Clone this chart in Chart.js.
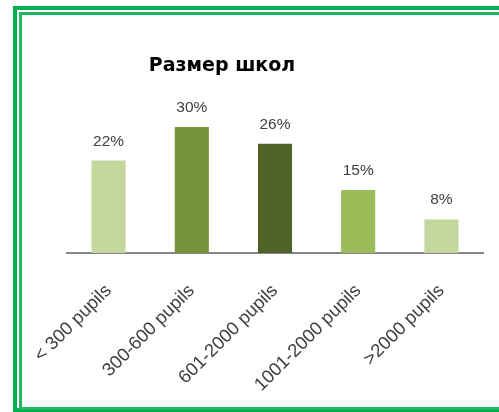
<!DOCTYPE html>
<html>
<head>
<meta charset="utf-8">
<script src="https://cdn.jsdelivr.net/npm/chart.js@4/dist/chart.umd.min.js"></script>
<style>
  html, body { margin: 0; padding: 0; background: #fff; overflow: hidden; width: 499px; height: 412px; }
  #outer { position: absolute; left: 13px; top: 6px; width: 600px; height: 406px; box-sizing: border-box; border: 4px solid #00b050; }
  #inner { position: absolute; left: 19px; top: 12px; width: 600px; height: 398px; box-sizing: border-box; border: 3px solid #1fb85f; }
  #c { position: absolute; left: 0; top: 0; }
</style>
</head>
<body>
<div id="outer"></div>
<div id="inner"></div>
<canvas id="c" width="499" height="412"></canvas>
<script>
const chartTitle = 'Размер школ';
const categories = ['< 300 pupils', '300-600 pupils', '601-2000 pupils', '1001-2000 pupils', '>2000 pupils'];
const shares = [22, 30, 26, 15, 8];
const barColors = ['#c3d69b', '#77933c', '#4f6228', '#9bbb59', '#c3d69b'];

const FONT = '"Liberation Sans", Arial, sans-serif';

const labelPlugin = {
  id: 'valueLabels',
  afterDatasetsDraw(chart) {
    const ctx = chart.ctx;
    const meta = chart.getDatasetMeta(0);
    ctx.save();
    ctx.font = '15.5px ' + FONT;
    ctx.fillStyle = '#404040';
    ctx.textAlign = 'center';
    ctx.textBaseline = 'alphabetic';
    meta.data.forEach((bar, i) => {
      ctx.fillText(shares[i] + '%', bar.x, bar.y - 15);
    });
    ctx.restore();
  }
};

const titlePlugin = {
  id: 'customTitle',
  afterDraw(chart) {
    const ctx = chart.ctx;
    ctx.save();
    ctx.font = 'bold 19px "DejaVu Sans", sans-serif';
    ctx.fillStyle = '#000';
    ctx.textAlign = 'center';
    ctx.textBaseline = 'alphabetic';
    ctx.fillText(chartTitle, 222, 71);
    ctx.restore();
  }
};

new Chart(document.getElementById('c'), {
  type: 'bar',
  data: {
    labels: categories,
    datasets: [{
      data: shares,
      backgroundColor: barColors,
      borderWidth: 0,
      barPercentage: 0.41,
      categoryPercentage: 1
    }]
  },
  options: {
    responsive: false,
    animation: false,
    layout: { padding: { left: 67, right: 16, top: 106, bottom: 0 } },
    plugins: { legend: { display: false }, tooltip: { enabled: false }, title: { display: false } },
    scales: {
      y: { display: false, min: 0, max: 35 },
      x: {
        grid: { display: false },
        border: { display: true, color: '#868686', width: 2 },
        ticks: {
          color: '#404040',
          font: { family: FONT, size: 18.5 },
          minRotation: 45,
          maxRotation: 45,
          padding: 19,
          autoSkip: false
        },
        afterFit(scale) { scale.height = 159; }
      }
    }
  },
  plugins: [labelPlugin, titlePlugin]
});
</script>
</body>
</html>
